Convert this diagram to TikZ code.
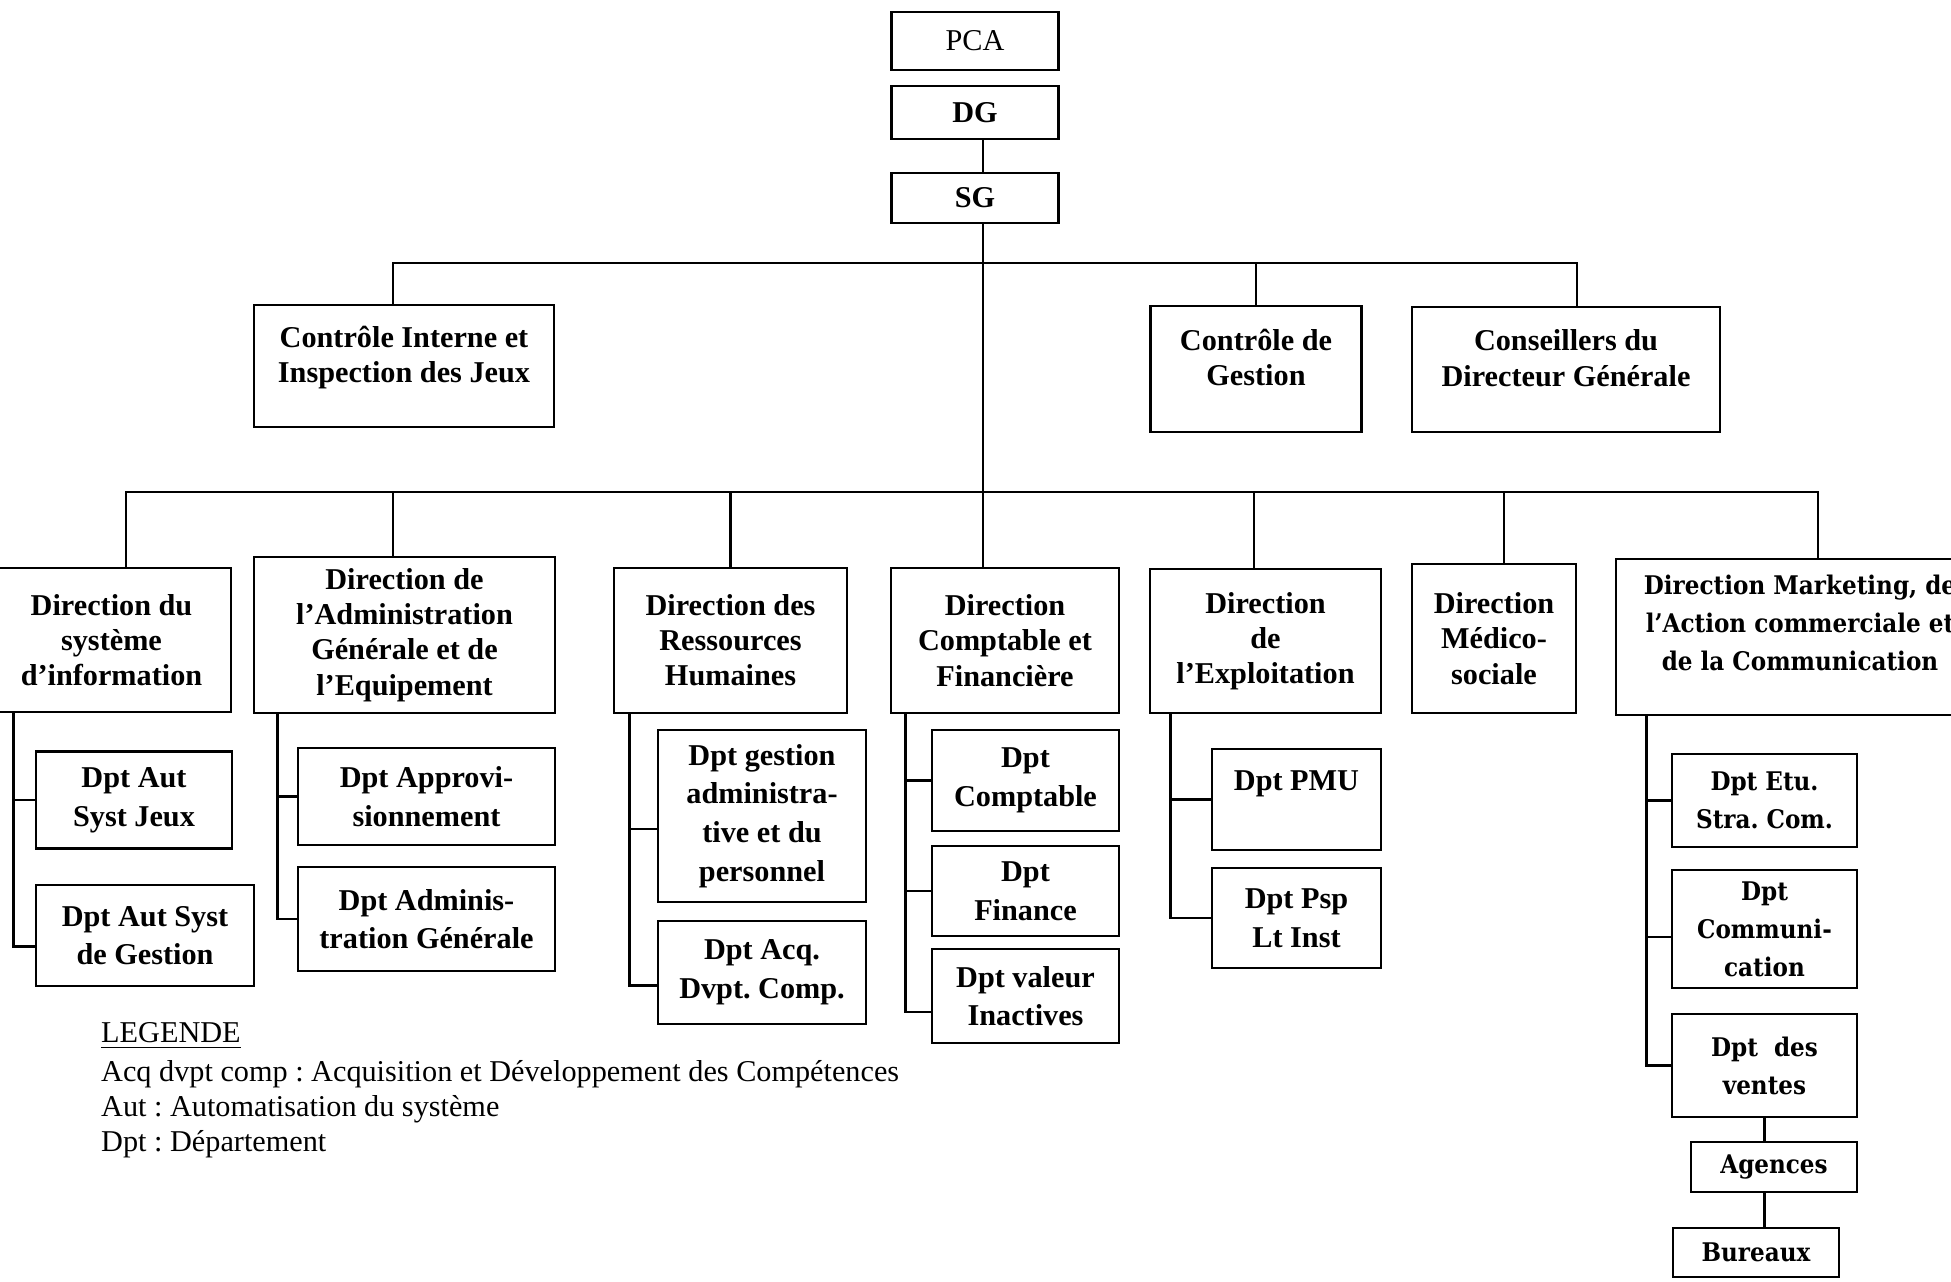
\documentclass[tikz,border=0pt]{standalone}
\usepackage{fontspec}
\setmainfont{Liberation Serif}
\newfontfamily\mktfont[FakeStretch=0.9]{DejaVu Serif}
\frenchspacing
\begin{document}
\begin{tikzpicture}[x=0.01cm, y=-0.01cm, line width=0.7pt,
                    box/.style={draw, align=center, inner sep=0pt, font=\fontsize{8.6}{10}\selectfont\bfseries},
                    dpt/.style={box, font=\fontsize{8.6}{11}\selectfont\bfseries},
                    mkt/.style={box, font=\mktfont\fontsize{7.3}{10.8}\selectfont\bfseries},
                    legende/.style={anchor=base west, inner sep=0pt, font=\fontsize{8.6}{10}\selectfont}]
  \useasboundingbox (0,0) rectangle (1951,1281);
  \coordinate (spine) at (983,0);
  \coordinate (bus1) at (0,263);
  \coordinate (bus2) at (0,492);

  \node[box, font=\fontsize{8.6}{10}\selectfont, minimum width=1.67cm, minimum height=0.58cm] (pca) at (975,41) {PCA};
  \node[box, minimum width=1.67cm, minimum height=0.53cm] (dg) at (975,112.5) {DG};
  \node[box, minimum width=1.67cm, minimum height=0.50cm] (sg) at (975,198) {SG};

  \node[box, minimum width=3.00cm, minimum height=1.22cm] (ciij) at (404,366) {Contrôle Interne et\\Inspection des Jeux\\[-3.5pt]\mbox{}};
  \node[box, minimum width=2.11cm, minimum height=1.26cm] (cdg) at (1256,369) {Contrôle de\\Gestion\\[-3.5pt]\mbox{}};
  \node[box, minimum width=3.08cm, minimum height=1.25cm] (cons) at (1566,369.5) {Conseillers du\\Directeur Générale\\[-3.5pt]\mbox{}};

  \node[box, minimum width=2.39cm, minimum height=1.44cm] (si) at (111.5,640) {Direction du\\système\\d’information};
  \node[box, minimum width=3.01cm, minimum height=1.56cm] (dage) at (404.5,635) {Direction de\\l’Administration\\Générale et de\\l’Equipement};
  \node[box, minimum width=2.33cm, minimum height=1.45cm] (drh) at (730.5,640.5) {Direction des\\Ressources\\Humaines};
  \node[box, minimum width=2.28cm, minimum height=1.45cm] (dcf) at (1005,640.5) {Direction\\Comptable et\\Financière};
  \node[box, minimum width=2.31cm, minimum height=1.44cm] (dex) at (1265.5,641) {Direction\\de\\l’Exploitation};
  \node[box, minimum width=1.64cm, minimum height=1.49cm] (dms) at (1494,638.5) {Direction\\Médico-\\sociale};
  \node[mkt, minimum width=3.68cm, minimum height=1.56cm] (dmk) at (1800,637) {Direction Marketing, de\\l’Action commerciale et\\de la Communication\\[-2.8pt]\mbox{}};

  \node[dpt, minimum width=1.96cm, minimum height=0.97cm] (jeux) at (134,800) {Dpt Aut\\Syst Jeux};
  \node[dpt, minimum width=2.18cm, minimum height=1.01cm] (gest) at (145,935.5) {Dpt Aut Syst\\de Gestion};
  \node[dpt, minimum width=2.57cm, minimum height=0.97cm] (appro) at (426.5,796.5) {Dpt Approvi-\\sionnement};
  \node[dpt, minimum width=2.57cm, minimum height=1.04cm] (admg) at (426.5,919) {Dpt Adminis-\\tration Générale};
  \node[dpt, minimum width=2.08cm, minimum height=1.72cm] (gadm) at (762,816) {Dpt gestion\\administra-\\tive et du\\personnel};
  \node[dpt, minimum width=2.08cm, minimum height=1.03cm] (acq) at (762,972.5) {Dpt Acq.\\Dvpt. Comp.};
  \node[dpt, minimum width=1.87cm, minimum height=1.01cm] (compta) at (1025.5,780.5) {Dpt\\Comptable};
  \node[dpt, minimum width=1.87cm, minimum height=0.90cm] (fin) at (1025.5,891) {Dpt\\Finance};
  \node[dpt, minimum width=1.87cm, minimum height=0.94cm] (val) at (1025.5,996) {Dpt valeur\\Inactives};
  \node[dpt, minimum width=1.69cm, minimum height=1.01cm] (pmu) at (1296.5,799.5) {Dpt PMU\\\mbox{}};
  \node[dpt, minimum width=1.69cm, minimum height=1.00cm] (psp) at (1296.5,918) {Dpt Psp\\Lt Inst};
  \node[mkt, minimum width=1.85cm, minimum height=0.93cm] (etu) at (1764.5,800.5) {Dpt Etu.\\Stra. Com.};
  \node[mkt, minimum width=1.85cm, minimum height=1.18cm] (comm) at (1764.5,929) {Dpt\\Communi-\\cation};
  \node[mkt, minimum width=1.85cm, minimum height=1.03cm] (ventes) at (1764.5,1065.5) {Dpt~~des\\ventes};
  \node[mkt, minimum width=1.66cm, minimum height=0.50cm] (agences) at (1774,1167) {Agences};
  \node[mkt, minimum width=1.66cm, minimum height=0.49cm] (bureaux) at (1756,1252.5) {Bureaux};

  \node[legende] (leg) at (100,1042) {\underline{LEGENDE}};
  \node[legende] (leg1) at (100,1081) {Acq dvpt comp : Acquisition et Développement des Compétences};
  \node[legende] (leg2) at (100,1116) {Aut : Automatisation du système};
  \node[legende] (leg3) at (100,1151) {Dpt : Département};

  \draw (dg.south -| spine) -- (sg.north -| spine);
  \draw (sg.south -| spine) -- (dcf.north -| spine);

  \draw ([xshift=-1.1mm]ciij.north) |- ([xshift=1.1mm]cons.north |- bus1) -- ([xshift=1.1mm]cons.north);
  \draw (cdg.north) -- (cdg.north |- bus1);

  \draw ([xshift=1.45mm]si.north) |- ([xshift=1.8mm]dmk.north |- bus2) -- ([xshift=1.8mm]dmk.north);
  \draw ([xshift=-1.15mm]dage.north) -- ([xshift=-1.15mm]dage.north |- bus2);
  \draw (drh.north) -- (drh.north |- bus2);
  \draw ([xshift=-1.15mm]dex.north) -- ([xshift=-1.15mm]dex.north |- bus2);
  \draw ([xshift=1mm]dms.north) -- ([xshift=1mm]dms.north |- bus2);

  \draw ([xshift=2.3mm]si.south west) |- (jeux.west)
        ([xshift=2.3mm]si.south west) |- ([yshift=-1.1mm]gest.west);
  \draw ([xshift=2.5mm]dage.south west) |- (appro.west)
        ([xshift=2.5mm]dage.south west) |- (admg.west);
  \draw ([xshift=1.7mm]drh.south west) |- ([yshift=-1.3mm]gadm.west)
        ([xshift=1.7mm]drh.south west) |- ([yshift=-1.3mm]acq.west);
  \draw ([xshift=1.6mm]dcf.south west) |- (compta.west)
        ([xshift=1.6mm]dcf.south west) |- (fin.west)
        ([xshift=1.6mm]dcf.south west) |- ([yshift=-1.6mm]val.west);
  \draw ([xshift=2.2mm]dex.south west) |- (pmu.west)
        ([xshift=2.2mm]dex.south west) |- (psp.west);
  \draw ([xshift=3.2mm]dmk.south west) |- (etu.west)
        ([xshift=3.2mm]dmk.south west) |- ([yshift=-0.8mm]comm.west)
        ([xshift=3.2mm]dmk.south west) |- (ventes.west);
  \draw (ventes.south) -- (ventes.south |- agences.north);
  \draw (agences.south -| ventes.south) -- (ventes.south |- bureaux.north);
\end{tikzpicture}
\end{document}
